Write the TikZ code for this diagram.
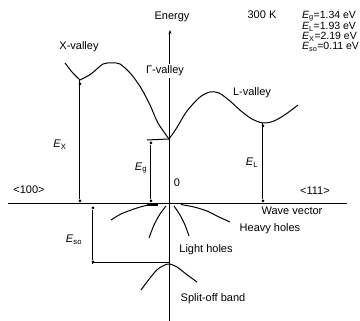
\documentclass[tikz,border=0pt]{standalone}
\usepackage{fontspec}
\setmainfont{Liberation Sans}
\usetikzlibrary{arrows.meta}
\begin{document}
\begin{tikzpicture}[x=1pt,y=-1pt, line width=1pt,
  lbl/.style={font=\fontsize{11}{12}\selectfont, inner sep=0.5pt},
  dot/.style={circle, fill, inner sep=0pt, minimum size=3pt},
  band/.style={line width=1pt, line join=round}]
\useasboundingbox (0,0) rectangle (360,321);
% axes
\coordinate (yb) at (170,321);
\coordinate (yt) at (170,30);
\coordinate (xl) at (8,204);
\coordinate (xr) at (347,204);
\draw (xl) -- (xr);
\draw[-{Stealth[length=4pt,width=3pt]}] (yb) -- (yt);
\node[lbl, fill=white, inner sep=1.5pt] (gv) at (165,71) {Γ-valley};
\node[lbl] (en) at (172,17) {Energy};
\node[lbl] (tk) at (262,15) {300 K};
\node[lbl, anchor=west, align=left, font=\fontsize{10.5}{10}\selectfont] (leg) at (301,31)
  {\textit{E}\textsubscript{g}=1.34 eV\\\textit{E}\textsubscript{L}=1.93 eV\\\textit{E}\textsubscript{X}=2.19 eV\\\textit{E}\textsubscript{so}=0.11 eV};
% conduction band
\coordinate (xmin) at (80,80);
\coordinate (gmin) at (169,139);
\coordinate (lmin) at (263,123);
\draw[band] plot[smooth, tension=0.4] coordinates {(65,63) (72,72) (xmin)};
\draw[band] plot[smooth, tension=0.5] coordinates {(xmin) (91,74) (103,64) (112,63) (120,64) (131,74) (141,88) (150,105) (158,123) (gmin)};
\draw[band] plot[smooth, tension=0.5] coordinates {(gmin) (176,129) (187,111) (200,97) (210,92) (219,93) (230,101) (241,111) (252,119) (lmin) (274,121) (286,114) (298,105)};
% valence bands
\draw[band] plot[smooth, tension=0.5] coordinates {(158,204.5) (146,205.5) (134,209) (121,214) (111,220)};
\draw[band] plot[smooth, tension=0.5] coordinates {(181,204.5) (194,207) (207,211) (219,217) (230,222)};
\draw[band] plot[smooth, tension=0.5] coordinates {(166,206) (160,214) (154,225) (149,238)};
\draw[band] plot[smooth, tension=0.5] coordinates {(174,206) (180,215) (185,225) (189,236)};
\draw[band] plot[smooth, tension=0.5] coordinates {(141,290) (150,278) (158,269) (168,264) (177,267) (186,274) (197,282)};
% energy markers
\coordinate (gl) at (147,140);
\draw (gmin) -- (gl);
\node[dot] (eg1) at (151,143) {};
\node[dot] (eg2) at (151,201) {};
\draw (eg1) -- (eg2);
\node[dot] (ex1) at (80,84) {};
\node[dot] (ex2) at (80,201) {};
\draw (xmin) -- (ex2);
\node[dot] (el1) at (263,126) {};
\node[dot] (el2) at (263,201) {};
\draw (lmin) -- (el2);
\node[dot] (es1) at (93,208) {};
\node[dot] (es2) at (93,262) {};
\coordinate (sot) at (170,263);
\draw (es1) -- (es2) -- (93,263) -- (sot);
\fill (147,203) rectangle (158,206);
% labels
\node[lbl] (xv) at (79,47) {X-valley};
\node[lbl] (lv) at (252,93) {L-valley};
\node[lbl] (lex) at (60,145) {\textit{E}\textsubscript{X}};
\node[lbl] (leg2) at (141,168) {\textit{E}\textsubscript{g}};
\node[lbl] (lel) at (252,163) {\textit{E}\textsubscript{L}};
\node[lbl] (les) at (74,240) {\textit{E}\textsubscript{so}};
\node[lbl] (zero) at (177,183) {0};
\node[lbl] (k100) at (29,190) {<100>};
\node[lbl] (k111) at (315,191) {<111>};
\node[lbl] (wv) at (292,211) {Wave vector};
\node[lbl] (hh) at (270,229) {Heavy holes};
\node[lbl] (lh) at (206,250) {Light holes};
\node[lbl] (so) at (213,299) {Split-off band};
\end{tikzpicture}
\end{document}
